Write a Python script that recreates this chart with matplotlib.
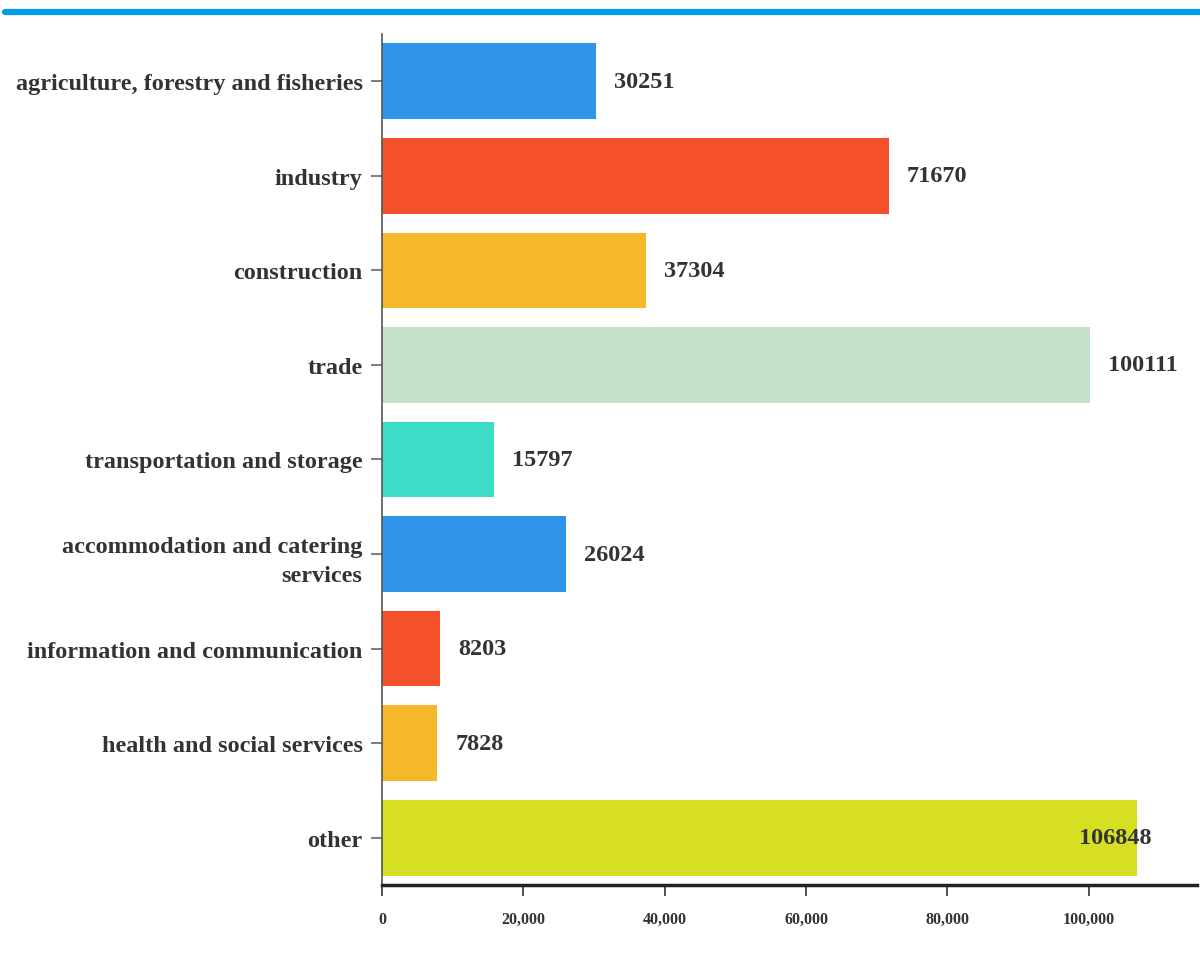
import matplotlib
matplotlib.use("Agg")
import matplotlib.pyplot as plt
from matplotlib.lines import Line2D
from matplotlib.ticker import FuncFormatter

# data
categories = ["agriculture, forestry and fisheries", "industry", "construction",
              "trade", "transportation and storage",
              "accommodation and catering\nservices",
              "information and communication", "health and social services",
              "other"]
values = [30251, 71670, 37304, 100111, 15797, 26024, 8203, 7828, 106848]
colors = ["#2F95EA", "#F4502A", "#F5B82A", "#C6DFC8", "#3DDCC6",
          "#2F95EA", "#F4502A", "#F5B82A", "#D6DF22"]
xticks = [0, 20000, 40000, 60000, 80000, 100000]

plt.rcParams['font.family'] = ['Liberation Serif', 'DejaVu Serif']
plt.rcParams['font.weight'] = 'bold'
txt = "#333333"

fig = plt.figure(figsize=(12, 9.78), dpi=100)
ax = fig.add_axes([0.3183, 0.0941, 0.6792, 0.8701])

y = list(range(len(categories)))
ax.barh(y, values, height=0.8, color=colors)
ax.set_ylim(len(categories) - 0.5, -0.5)
ax.set_xlim(0, 115300)

xmax = ax.get_xlim()[1]
for yi, v in zip(y, values):
    if v > 0.92 * xmax:
        ax.annotate(str(v), (v, yi), xytext=(10, 0), textcoords="offset points",
                    ha="right", va="center", fontsize=17.5, color=txt, fontweight="bold")
    else:
        ax.annotate(str(v), (v, yi), xytext=(13, 0), textcoords="offset points",
                    ha="left", va="center", fontsize=17.5, color=txt, fontweight="bold")

ax.set_yticks(y)
ax.set_yticklabels(categories, fontsize=17.5, color=txt, fontweight="bold",
                   linespacing=1.5)
ax.set_xticks(xticks)
ax.xaxis.set_major_formatter(FuncFormatter(lambda v, p: f"{int(v):,}"))
for lab in ax.get_xticklabels():
    lab.set_fontsize(11.5)
    lab.set_color(txt)
    lab.set_fontweight("bold")

ax.tick_params(axis="y", length=8, width=1.2, color="#666666", pad=6)
ax.tick_params(axis="x", length=8, width=1.2, color="#333333", pad=11)

for s in ["top", "right"]:
    ax.spines[s].set_visible(False)
ax.spines["left"].set_color("#555555")
ax.spines["left"].set_linewidth(1.2)
ax.spines["bottom"].set_color("#222222")
ax.spines["bottom"].set_linewidth(2.5)

# top accent line
fig.add_artist(Line2D([0.004, 1.0], [0.9870, 0.9870], transform=fig.transFigure,
                      color="#039BE5", linewidth=4.5, solid_capstyle="round"))

fig.savefig("out.png", dpi=100)
